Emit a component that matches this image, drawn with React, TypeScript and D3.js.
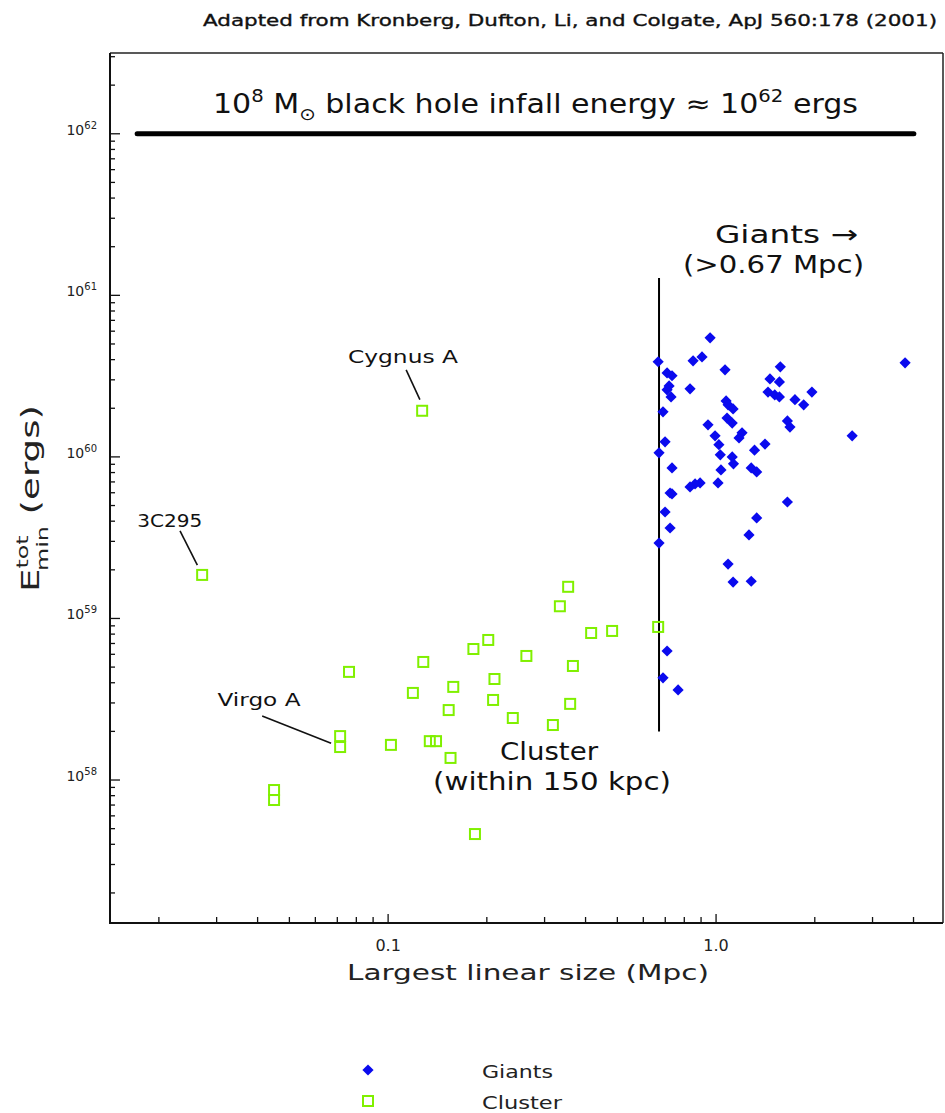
import React from "react";
import * as d3 from "d3";

// ---- data ----
const clusterSize = [0.0271, 0.127, 0.0714, 0.0714, 0.0449, 0.0449, 0.076, 0.102, 0.119, 0.128, 0.134, 0.14, 0.153, 0.158, 0.155, 0.182, 0.202, 0.211, 0.209, 0.24, 0.264, 0.318, 0.334, 0.354, 0.366, 0.359, 0.416, 0.482, 0.666, 0.184];
const clusterEnergy = [1.86e59, 1.93e60, 1.87e58, 1.6e58, 8.67e57, 7.52e57, 4.67e58, 1.65e58, 3.46e58, 5.38e58, 1.74e58, 1.74e58, 2.71e58, 3.77e58, 1.37e58, 6.47e58, 7.36e58, 4.22e58, 3.13e58, 2.42e58, 5.86e58, 2.19e58, 1.19e59, 1.57e59, 5.08e58, 2.96e58, 8.13e58, 8.37e58, 8.86e58, 4.63e57];

const giantSize = [0.959, 0.666, 0.851, 0.906, 3.77, 1.57, 1.065, 0.709, 0.734, 1.46, 1.56, 0.719, 0.833, 0.709, 1.44, 1.96, 1.51, 0.729, 1.56, 1.073, 1.74, 1.088, 1.85, 1.127, 0.689, 1.08, 1.65, 1.12, 0.945, 1.68, 1.2, 0.993, 1.175, 2.6, 0.699, 1.02, 1.41, 1.31, 0.67, 1.03, 1.12, 1.13, 0.734, 1.28, 1.33, 1.035, 0.894, 0.863, 0.833, 1.014, 0.724, 0.734, 1.65, 0.699, 1.33, 0.724, 1.26, 0.67, 1.088, 1.127, 1.28, 0.709, 0.689, 0.766];
const giantEnergy = [5.46e60, 3.88e60, 3.93e60, 4.16e60, 3.82e60, 3.61e60, 3.46e60, 3.31e60, 3.18e60, 3.04e60, 2.91e60, 2.75e60, 2.64e60, 2.6e60, 2.52e60, 2.52e60, 2.42e60, 2.35e60, 2.35e60, 2.22e60, 2.26e60, 2.1e60, 2.1e60, 1.98e60, 1.9e60, 1.74e60, 1.67e60, 1.62e60, 1.58e60, 1.53e60, 1.41e60, 1.35e60, 1.31e60, 1.35e60, 1.24e60, 1.19e60, 1.2e60, 1.1e60, 1.06e60, 1.03e60, 1.0e60, 9.06e59, 8.55e59, 8.55e59, 8.07e59, 8.31e59, 6.9e59, 6.8e59, 6.52e59, 6.9e59, 5.98e59, 5.9e59, 5.26e59, 4.56e59, 4.19e59, 3.63e59, 3.29e59, 2.93e59, 2.17e59, 1.68e59, 1.7e59, 6.29e58, 4.29e58, 3.61e58];

const xTickValues = [0.1, 1.0];
const xTickLabels = ["0.1", "1.0"];
const yTickExponents = [58, 59, 60, 61, 62];

const blackHoleEnergy = 1e62;
const blackHoleSpan = [0.01717, 4.01];
const giantCut = 0.67;
const giantCutSpan = [2.0e58, 1.28e61];

// label text position (tx, te), leader line from (lx, le) to (ex, ee)
const annotations = [
  { name: "Cygnus A", w: 110, tx: 0.111, te: 3.82e60, lx: 0.1135, le: 3.46e60, ex: 0.125, ee: 2.26e60 },
  { name: "3C295", w: 65, tx: 0.0216, te: 3.69e59, lx: 0.0232, le: 3.48e59, ex: 0.0262, ee: 2.14e59 },
  { name: "Virgo A", w: 83, tx: 0.0404, te: 2.87e58, lx: 0.0413, le: 2.49e58, ex: 0.067, ee: 1.69e58 },
];

const W = 945;
const H = 1113;
const left = 110, right = 943, top = 53, bottom = 923;

export default function App() {
  const x = d3.scaleLog().domain([0.01419, 4.92]).range([left, right]);
  const y = d3.scaleLog().domain([Math.pow(10, 57.115), Math.pow(10, 62.5)]).range([bottom, top]);

  const font = "'DejaVu Sans', 'Liberation Sans', sans-serif";
  const green = "#80f000";
  const blue = "#0a0aee";

  const yTicks: { v: number; major: boolean }[] = [];
  for (let e = 57; e <= 62; e++) {
    for (let m = 1; m <= 9; m++) {
      const v = m * Math.pow(10, e);
      const [d0, d1] = y.domain();
      if (v >= d0 && v <= d1) yTicks.push({ v, major: m === 1 });
    }
  }
  const xTicks: { v: number; major: boolean }[] = [];
  for (let e = -2; e <= 0; e++) {
    for (let m = 1; m <= 9; m++) {
      const v = m * Math.pow(10, e);
      const [d0, d1] = x.domain();
      if (v >= d0 && v <= d1) xTicks.push({ v, major: m === 1 });
    }
  }

  const dia = "M0,-5.6L5.6,0L0,5.6L-5.6,0Z";
  const fit = { lengthAdjust: "spacingAndGlyphs" as const };

  return (
    <svg width={W} height={H} style={{ position: "absolute", left: 0, top: 0, background: "#fff" }} fontFamily={font}>
      <rect x={0} y={0} width={W} height={H} fill="#fff" />
      {/* top credit */}
      <text x={203} y={26} fontSize={16} fill="#111" stroke="#111" strokeWidth={0.35} textLength={734} {...fit}>
        Adapted from Kronberg, Dufton, Li, and Colgate, ApJ 560:178 (2001)
      </text>

      {/* frame */}
      <line x1={left} x2={right} y1={top} y2={top} stroke="#222" strokeWidth={1.5} />
      <line x1={right} x2={right} y1={top} y2={bottom} stroke="#222" strokeWidth={1.5} />
      <line x1={left} x2={left} y1={top} y2={bottom + 1} stroke="#111" strokeWidth={2} />
      <line x1={left - 1} x2={right} y1={bottom} y2={bottom} stroke="#111" strokeWidth={2} />

      {/* y ticks */}
      {yTicks.map((t, i) => (
        <line key={"yt" + i} x1={left} x2={left + (t.major ? 10 : 5)} y1={y(t.v)} y2={y(t.v)} stroke="#111" strokeWidth={1.3} />
      ))}
      {yTickExponents.map((e) => (
        <text key={"yl" + e} x={97} y={y(Math.pow(10, e)) + 1} textAnchor="end" fontSize={14} fill="#222">
          10<tspan dy={-6} fontSize={10}>{e}</tspan>
        </text>
      ))}

      {/* x ticks */}
      {xTicks.map((t, i) => (
        <line key={"xt" + i} x1={x(t.v)} x2={x(t.v)} y1={bottom} y2={bottom - (t.major ? 9 : 6)} stroke="#111" strokeWidth={1.3} />
      ))}
      {xTickValues.map((v, i) => (
        <text key={"xl" + i} x={x(v)} y={951} textAnchor="middle" fontSize={16} fill="#222">
          {xTickLabels[i]}
        </text>
      ))}

      {/* axis titles */}
      <text x={347} y={980} fontSize={22} fill="#222" textLength={362} {...fit}>
        Largest linear size (Mpc)
      </text>
      <g transform="translate(39,592) rotate(-90)">
        <text x={0} y={0} fontSize={25} fill="#222" textLength={187} {...fit}>
          E<tspan dy={-11} fontSize={16}>tot</tspan>
          <tspan dx={-24} dy={20} fontSize={16}>min</tspan>
          <tspan dy={-9} fontSize={25}>{"  (ergs)"}</tspan>
        </text>
      </g>

      {/* black hole line */}
      <line x1={x(blackHoleSpan[0])} x2={x(blackHoleSpan[1])} y1={y(blackHoleEnergy)} y2={y(blackHoleEnergy)} stroke="#000" strokeWidth={5} strokeLinecap="round" />
      <text x={213} y={113} fontSize={26} fill="#111" textLength={645} {...fit}>
        10<tspan dy={-11} fontSize={17}>8</tspan>
        <tspan dy={11}> M</tspan>
        <tspan dy={7} fontSize={17}>⊙</tspan>
        <tspan dy={-7}> black hole infall energy ≈ 10</tspan>
        <tspan dy={-11} fontSize={17}>62</tspan>
        <tspan dy={11}> ergs</tspan>
      </text>

      {/* giants cut */}
      <line x1={x(giantCut)} x2={x(giantCut)} y1={y(giantCutSpan[1])} y2={y(giantCutSpan[0])} stroke="#000" strokeWidth={2} />
      <text x={715} y={243} fontSize={25} fill="#111" textLength={143} {...fit}>Giants →</text>
      <text x={683} y={273} fontSize={25} fill="#111" textLength={181} {...fit}>(&gt;0.67 Mpc)</text>

      <text x={500} y={760} fontSize={25} fill="#111" textLength={98} {...fit}>Cluster</text>
      <text x={433} y={790} fontSize={25} fill="#111" textLength={238} {...fit}>(within 150 kpc)</text>

      {/* annotations */}
      {annotations.map((a) => (
        <g key={a.name}>
          <line x1={x(a.lx)} y1={y(a.le)} x2={x(a.ex)} y2={y(a.ee)} stroke="#111" strokeWidth={1.6} />
          <text x={x(a.tx) - a.w / 2} y={y(a.te)} fontSize={17} fill="#111" textLength={a.w} {...fit}>{a.name}</text>
        </g>
      ))}

      {/* cluster squares */}
      {clusterSize.map((s, i) => (
        <rect key={"c" + i} x={x(s) - 5} y={y(clusterEnergy[i]) - 5} width={10} height={10} fill="none" stroke={green} strokeWidth={2} />
      ))}

      {/* giants diamonds */}
      {giantSize.map((s, i) => (
        <path key={"g" + i} d={dia} transform={`translate(${x(s)},${y(giantEnergy[i])})`} fill={blue} />
      ))}

      {/* legend */}
      <path d={dia} transform="translate(368,1070)" fill={blue} />
      <text x={482} y={1078} fontSize={17} fill="#222" textLength={71} {...fit}>Giants</text>
      <rect x={363} y={1096} width={10} height={10} fill="none" stroke={green} strokeWidth={2} />
      <text x={482} y={1109} fontSize={17} fill="#222" textLength={80} {...fit}>Cluster</text>
    </svg>
  );
}
